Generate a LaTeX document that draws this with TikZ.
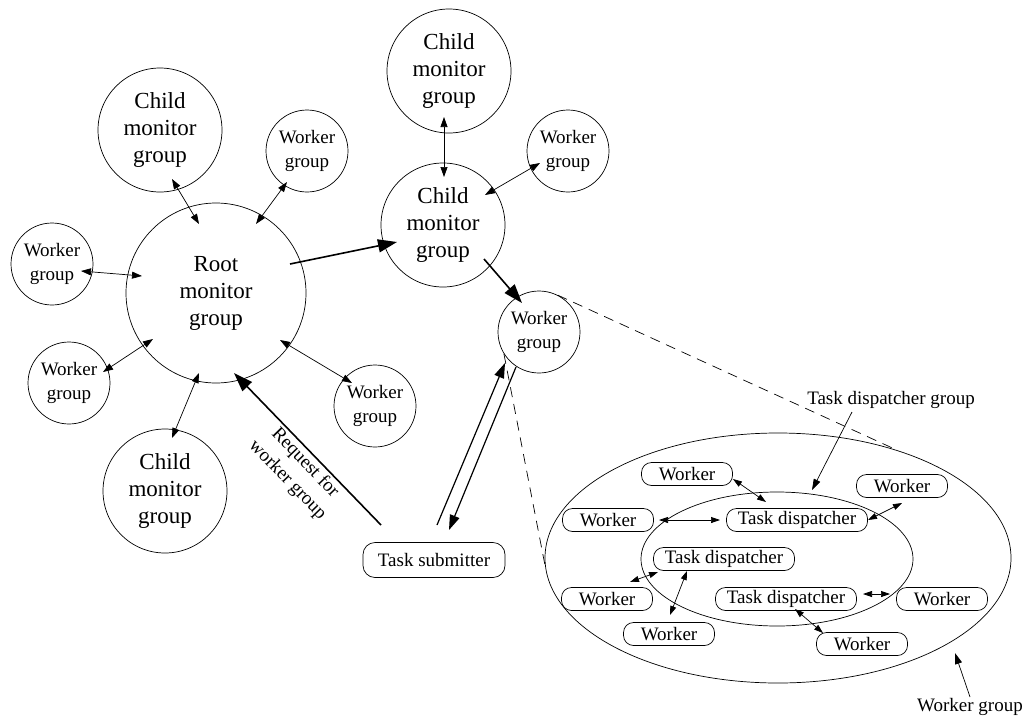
\documentclass[tikz,border=0pt]{standalone}
\usepackage{fontspec}
\setmainfont{Liberation Serif}
\usetikzlibrary{arrows.meta,shapes.geometric}

\begin{document}
\begin{tikzpicture}[x=1pt, y=-1pt, line width=0.7pt,
  font=\fontsize{19}{24.5}\selectfont,
  big/.style={draw, circle, minimum size=124pt, inner sep=0pt, align=center,
    font=\fontsize{23}{27}\selectfont},
  small/.style={draw, circle, minimum size=82pt, inner sep=0pt, align=center},
  box/.style={draw, rounded corners=10pt, minimum width=91pt, minimum height=23pt, inner sep=0pt},
  link/.style={{Triangle[length=10pt,width=7pt]}-{Triangle[length=10pt,width=7pt]}},
  tiny/.style={{Triangle[length=9pt,width=6pt]}-{Triangle[length=9pt,width=6pt]}},
  heavy/.style={-{Triangle[length=19pt,width=13pt]}, line width=1.6pt},
  mid/.style={-{Triangle[length=15pt,width=10pt]}, line width=1.2pt}]
  \useasboundingbox (0,0) rectangle (1033,718);

  % 左边：根监控组和周围的组
  \node[big, minimum size=180pt] (root) at (216,293) {Root\\monitor\\group};
  \node[big] (cm1) at (160,130) {Child\\monitor\\group};
  \node[big] (cm2) at (165,491) {Child\\monitor\\group};
  \node[small] (wg1) at (307,151) {Worker\\group};
  \node[small] (wg2) at (52,264)  {Worker\\group};
  \node[small] (wg3) at (69,383)  {Worker\\group};
  \node[small] (wg4) at (375,406) {Worker\\group};

  % 中间：子监控组
  \node[big] (cm3) at (443,225) {Child\\monitor\\group};
  \node[big] (cm4) at (449,71)  {Child\\monitor\\group};
  \node[small] (wg5) at (568,151) {Worker\\group};
  \node[small] (wg6) at (539,332) {Worker\\group};

  % 任务提交者
  \node[draw, rounded corners=12pt, minimum width=142pt, minimum height=35pt] (sub) at (434,560) {Task submitter};

  % 根的双向箭头
  \draw[link] ([shift={(-17,-69)}]root.center) -- ([shift={(12,49)}]cm1.center);
  \draw[link] ([shift={(40,-69)}]root.center) -- ([shift={(-20,31)}]wg1.center);
  \draw[link] ([shift={(-74,-17)}]root.center) -- ([shift={(29,7)}]wg2.center);
  \draw[link] ([shift={(-63,46)}]root.center) -- ([shift={(34,-11)}]wg3.center);
  \draw[link] ([shift={(-17,80)}]root.center) -- ([shift={(7,-53)}]cm2.center);
  \draw[link] ([shift={(64,47)}]root.center) -- ([shift={(-23,-23)}]wg4.center);
  \draw[link] ([shift={(-5,46)}]cm4.center) -- ([shift={(1,-48)}]cm3.center);
  \draw[link] ([shift={(42,-30)}]cm3.center) -- ([shift={(-28,12)}]wg5.center);

  % 粗箭头
  \draw[heavy] ([shift={(74,-29)}]root.center) -- ([shift={(-46,17)}]cm3.center);
  \draw[heavy] ([shift={(41,34)}]cm3.center) -- ([shift={(-17,-29)}]wg6.center);
  \draw[heavy] ([shift={(-53,-35)}]sub.center)
    -- node[pos=0.46, rotate=-46, anchor=north, align=center, inner sep=2pt] {Request for\\worker group}
    ([shift={(18,80)}]root.center);
  \draw[mid] ([shift={(3,-35)}]sub.center) -- ([shift={(-34,31)}]wg6.center);
  \draw[mid] ([shift={(-23,35)}]wg6.center) -- ([shift={(15,-30)}]sub.center);

  % 右边：放大的工作组
  \node[draw, ellipse, minimum width=466pt, minimum height=250pt, inner sep=0pt] (wgbig) at (778,558) {};
  \node[draw, ellipse, minimum width=272pt, minimum height=134pt, inner sep=0pt] (tdg) at (777,559) {};
  \draw[dash pattern=on 10pt off 7pt] (wg6.63) -- (wgbig.42.7);
  \draw[dash pattern=on 10pt off 7pt] (wg6.212) -- (wgbig.182);

  \node[box] (w1) at (687,474) {Worker};
  \node[box] (w2) at (902,486) {Worker};
  \node[box] (w3) at (608,520) {Worker};
  \node[box] (w4) at (607,599) {Worker};
  \node[box] (w5) at (942,599) {Worker};
  \node[box] (w6) at (669,634) {Worker};
  \node[box] (w7) at (862,644) {Worker};
  \node[box, minimum width=141pt] (td1) at (797,520) {Task dispatcher};
  \node[box, minimum width=141pt] (td2) at (724,559) {Task dispatcher};
  \node[box, minimum width=141pt] (td3) at (786,599) {Task dispatcher};

  \draw[tiny] ([shift={(46,5)}]w1.center) -- ([shift={(-31,-18)}]td1.center);
  \draw[tiny] ([shift={(51,0)}]w3.center) -- ([shift={(-77,0)}]td1.center);
  \draw[tiny] ([shift={(71,0)}]td1.center) -- ([shift={(0,17)}]w2.center);
  \draw[tiny] ([shift={(-66,13)}]td2.center) -- ([shift={(23,-17)}]w4.center);
  \draw[tiny] ([shift={(-37,12)}]td2.center) -- ([shift={(1,-19)}]w6.center);
  \draw[tiny] ([shift={(77,-5)}]td3.center) -- ([shift={(-52,-5)}]w5.center);
  \draw[tiny] ([shift={(9,10)}]td3.center) -- ([shift={(-39,-11)}]w7.center);

  % 标注
  \node (tdlabel) at (891,400) {Task dispatcher group};
  \node (wglabel) at (970,707) {Worker group};
  \draw[-{Triangle[length=11pt,width=7pt]}] ([shift={(-39,12)}]tdlabel.center) -- ([shift={(35,-69)}]tdg.center);
  \draw[-{Triangle[length=11pt,width=7pt]}] ([shift={(0,-10)}]wglabel.center) -- ([shift={(177,95)}]wgbig.center);
\end{tikzpicture}
\end{document}
